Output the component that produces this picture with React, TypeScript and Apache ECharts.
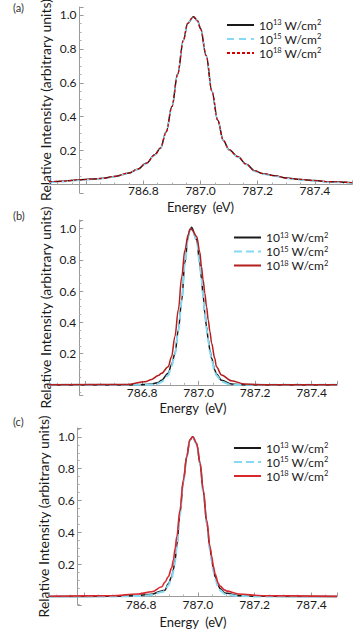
import React, { useEffect, useRef } from "react";
import * as echarts from "echarts";

// ---------- data ----------
const energyA = [786.47, 786.52, 786.57, 786.62, 786.66, 786.70, 786.75, 786.78, 786.81, 786.84, 786.86, 786.88, 786.90, 786.92, 786.94, 786.955, 786.975, 786.99, 787.00, 787.02, 787.04, 787.06, 787.08, 787.10, 787.13, 787.16, 787.19, 787.22, 787.26, 787.30, 787.35, 787.40, 787.45, 787.53];
const a13 = [0.016, 0.020, 0.027, 0.032, 0.037, 0.048, 0.068, 0.090, 0.125, 0.175, 0.215, 0.31, 0.46, 0.65, 0.85, 0.95, 0.99, 0.965, 0.92, 0.76, 0.55, 0.38, 0.26, 0.205, 0.165, 0.12, 0.08, 0.064, 0.052, 0.038, 0.030, 0.023, 0.017, 0.011];
const a15 = [0.012, 0.017, 0.024, 0.030, 0.035, 0.046, 0.066, 0.088, 0.123, 0.173, 0.213, 0.31, 0.46, 0.65, 0.85, 0.95, 0.99, 0.965, 0.92, 0.76, 0.55, 0.38, 0.26, 0.203, 0.162, 0.117, 0.077, 0.061, 0.049, 0.035, 0.027, 0.020, 0.014, 0.008];
const a18 = [0.016, 0.020, 0.027, 0.032, 0.037, 0.048, 0.068, 0.090, 0.125, 0.175, 0.215, 0.31, 0.46, 0.65, 0.85, 0.95, 0.99, 0.965, 0.92, 0.76, 0.55, 0.38, 0.26, 0.205, 0.165, 0.12, 0.08, 0.064, 0.052, 0.038, 0.030, 0.023, 0.017, 0.011];

const energyB = [786.47, 786.75, 786.81, 786.834, 786.857, 786.869, 786.892, 786.904, 786.916, 786.928, 786.94, 786.951, 786.963, 786.969, 786.975, 786.993, 787.004, 787.01, 787.016, 787.022, 787.028, 787.034, 787.04, 787.046, 787.057, 787.063, 787.081, 787.116, 787.163, 787.25, 787.49];
const b13 = [0, 0, 0.002, 0.006, 0.015, 0.03, 0.074, 0.13, 0.2, 0.35, 0.54, 0.78, 0.95, 0.99, 1.008, 0.93, 0.78, 0.68, 0.57, 0.46, 0.37, 0.29, 0.22, 0.17, 0.095, 0.07, 0.03, 0.006, 0, 0, 0];
const b15 = [0, 0, 0, 0.002, 0.008, 0.02, 0.06, 0.12, 0.195, 0.345, 0.535, 0.775, 0.95, 0.99, 1.0, 0.93, 0.78, 0.68, 0.57, 0.455, 0.36, 0.28, 0.21, 0.16, 0.085, 0.06, 0.02, 0, 0, 0, 0];
const b18 = [0, 0.003, 0.02, 0.035, 0.06, 0.074, 0.116, 0.18, 0.31, 0.48, 0.69, 0.86, 0.96, 0.997, 0.995, 0.95, 0.85, 0.756, 0.67, 0.585, 0.5, 0.415, 0.34, 0.266, 0.17, 0.116, 0.063, 0.026, 0.005, 0, 0];

const energyC = [786.476, 786.697, 786.79, 786.838, 786.873, 786.884, 786.896, 786.908, 786.914, 786.92, 786.926, 786.937, 786.949, 786.961, 786.972, 786.982, 786.996, 787.008, 787.019, 787.031, 787.043, 787.049, 787.055, 787.061, 787.072, 787.078, 787.096, 787.102, 787.143, 787.225, 787.49];
const c13 = [0, 0.001, 0.006, 0.015, 0.035, 0.04, 0.08, 0.124, 0.17, 0.229, 0.32, 0.52, 0.72, 0.875, 0.98, 1.0, 0.955, 0.83, 0.66, 0.47, 0.3, 0.23, 0.165, 0.124, 0.07, 0.05, 0.022, 0.02, 0.006, 0.001, 0];
const c15 = [0, 0, 0.003, 0.01, 0.028, 0.035, 0.07, 0.115, 0.16, 0.22, 0.31, 0.515, 0.715, 0.873, 0.98, 1.0, 0.955, 0.83, 0.655, 0.46, 0.29, 0.22, 0.155, 0.11, 0.06, 0.04, 0.015, 0.012, 0.003, 0, 0];
const c18 = [0.002, 0.005, 0.016, 0.03, 0.061, 0.09, 0.124, 0.18, 0.229, 0.3, 0.375, 0.542, 0.73, 0.877, 0.981, 1.0, 0.96, 0.835, 0.668, 0.48, 0.312, 0.25, 0.187, 0.14, 0.083, 0.065, 0.04, 0.034, 0.016, 0.005, 0.001];

const legendExponents = ["13", "15", "18"];
const panelLabels = ["(a)", "(b)", "(c)"];
const xName = "Energy  (eV)";
const yName = "Relative Intensity (arbitrary units)";
const yAxisAt = 786.577;

const FONT = "Lato";

const panels = [
  { grid: { left: 49, top: 7, width: 303, height: 186 }, xMin: 786.47, xMax: 787.53, yMin: -0.05, yMax: 1.047, nameGap: 15.5, labelMargin: 0,
    energy: energyA, vals: [a13, a15, a18],
    colors: ["#1a1a1a", "#86d9f2", "#d40000"],
    types: ["solid", [7, 5], [3, 2]], widths: [1.5, 1.5, 1.2],
    legend: { left: 226, top: 18.5 }, label: { x: 13, y: 7 } },
  { grid: { left: 49, top: 220, width: 288, height: 175 }, xMin: 786.47, xMax: 787.49, yMin: -0.065, yMax: 1.055, nameGap: 17, labelMargin: 2,
    energy: energyB, vals: [b13, b15, b18],
    colors: ["#1a1a1a", "#86d9f2", "#b41e1e"],
    types: ["solid", [8, 4], "solid"], widths: [1.5, 2, 1.5],
    legend: { left: 233, top: 231 }, label: { x: 13, y: 215 } },
  { grid: { left: 49, top: 428, width: 288, height: 177 }, xMin: 786.476, xMax: 787.49, yMin: -0.053, yMax: 1.055, nameGap: 19, labelMargin: 2,
    energy: energyC, vals: [c13, c15, c18],
    colors: ["#1a1a1a", "#86d9f2", "#d8282e"],
    types: ["solid", [8, 4], "solid"], widths: [1.5, 2, 1.6],
    legend: { left: 233, top: 441.5 }, label: { x: 13, y: 421.5 } },
];

const fmtX = (v: number) => {
  const r = Math.round(v * 5) / 5;
  if (Math.abs(v - r) > 1e-6 || Math.abs(r - 786.6) < 1e-6) return "";
  return r.toFixed(1);
};
const fmtY = (v: number) => {
  const r = Math.round(v * 5) / 5;
  if (Math.abs(v - r) > 1e-6 || r <= 0) return "";
  return r.toFixed(1);
};

export default function App() {
  const ref = useRef<HTMLDivElement>(null);
  useEffect(() => {
    if (!ref.current) return;
    const chart = echarts.init(ref.current, undefined, { renderer: "svg" });
    const grid: any[] = [];
    const xAxis: any[] = [];
    const yAxis: any[] = [];
    const series: any[] = [];
    const legend: any[] = [];
    const graphic: any[] = [];
    panels.forEach((p, pi) => {
      grid.push({ ...p.grid, containLabel: false, outerBoundsMode: "none" });
      const xOff = -((0 - p.yMin) / (p.yMax - p.yMin)) * p.grid.height;
      xAxis.push({
        type: "value", gridIndex: pi, min: p.xMin, max: p.xMax, splitNumber: 5,
        position: "bottom", offset: xOff,
        name: xName, nameLocation: "middle", nameGap: p.nameGap, nameMoveOverlap: false,
        nameTextStyle: { fontFamily: FONT, fontSize: 13, lineHeight: 13, color: "#1a1a1a" },
        axisLine: { onZero: false, lineStyle: { color: "#9a9a9a", width: 1 } },
        axisTick: { show: true, inside: true, length: 4, lineStyle: { color: "#9a9a9a" } },
        minorTick: { show: true, splitNumber: 4, length: 2, lineStyle: { color: "#b0b0b0" } },
        axisLabel: { formatter: fmtX, margin: p.labelMargin, fontFamily: FONT, fontSize: 12, lineHeight: 12, color: "#1a1a1a" },
        splitLine: { show: false },
      });
      const yOff = -((yAxisAt - p.xMin) / (p.xMax - p.xMin)) * p.grid.width;
      yAxis.push({
        type: "value", gridIndex: pi, min: p.yMin, max: p.yMax, splitNumber: 5,
        position: "left", offset: yOff,
        name: yName, nameLocation: "middle", nameGap: 27, nameRotate: 90, nameMoveOverlap: false,
        nameTextStyle: { fontFamily: FONT, fontSize: 14, color: "#1a1a1a" },
        axisLine: { show: true, onZero: false, lineStyle: { color: "#9a9a9a", width: 1 } },
        axisTick: { show: true, inside: true, length: 4, lineStyle: { color: "#9a9a9a" } },
        minorTick: { show: true, splitNumber: 4, length: 2, lineStyle: { color: "#b0b0b0" } },
        axisLabel: { formatter: fmtY, margin: 3, fontFamily: FONT, fontSize: 12, color: "#1a1a1a" },
        splitLine: { show: false },
      });
      const names: string[] = [];
      p.vals.forEach((vals, si) => {
        const name = `${pi}-${legendExponents[si]}`;
        names.push(name);
        series.push({
          type: "line", name, xAxisIndex: pi, yAxisIndex: pi,
          data: p.energy.map((e, i) => [e, vals[i]]),
          symbol: "none", showSymbol: false, smooth: 0.35, smoothMonotone: "x",
          lineStyle: { color: p.colors[si], width: p.widths[si], type: p.types[si] as any },
          itemStyle: { color: p.colors[si] },
          z: 2 + si,
        });
      });
      legend.push({
        data: names, orient: "vertical", left: p.legend.left, top: p.legend.top,
        padding: 0, itemGap: 1, itemWidth: 27, itemHeight: 13,
        selectedMode: false,
        itemStyle: { opacity: 0, borderWidth: 0 },
        formatter: (n: string) => `10{s|${n.split("-")[1]}} W/cm{s|2}`,
        textStyle: {
          fontFamily: FONT, fontSize: 12, color: "#1a1a1a", lineHeight: 13,
          rich: { s: { fontFamily: FONT, fontSize: 7.5, verticalAlign: "top", lineHeight: 9, color: "#1a1a1a" } },
        },
      });
      graphic.push({
        type: "text", x: p.label.x, y: p.label.y,
        style: { text: panelLabels[pi], fill: "#333", font: `11px ${FONT}`, verticalAlign: "middle" },
      });
    });
    chart.setOption({ animation: false, grid, xAxis, yAxis, series, legend, graphic });
    return () => chart.dispose();
  }, []);
  return (
    <div
      ref={ref}
      style={{ position: "absolute", left: 0, top: 0, width: 354, height: 630, background: "#fff" }}
    />
  );
}
